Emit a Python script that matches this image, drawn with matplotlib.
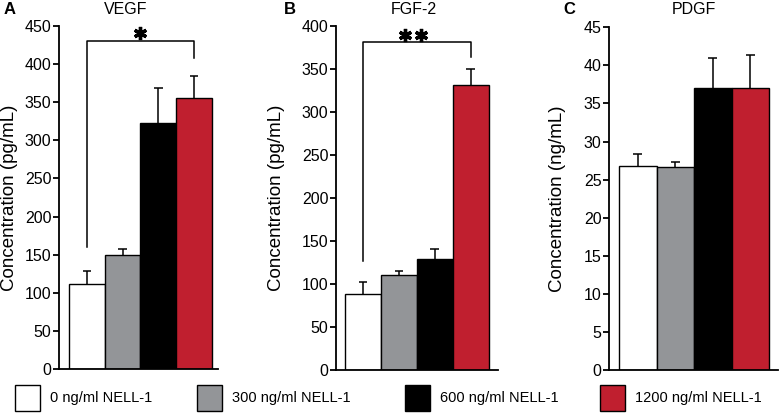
import matplotlib
matplotlib.use('Agg')
import matplotlib.pyplot as plt
from matplotlib.patches import Rectangle
import numpy as np

plt.rcParams['font.family'] = ['Liberation Sans', 'DejaVu Sans']

groups = ['0 ng/ml NELL-1', '300 ng/ml NELL-1', '600 ng/ml NELL-1', '1200 ng/ml NELL-1']
colors = ['#ffffff', '#939598', '#000000', '#c01f2f']

vegf_mean = [111, 150, 323, 355]
vegf_err = [17, 8, 46, 29]
fgf_mean = [89, 110, 129, 332]
fgf_err = [13, 5, 12, 18]
pdgf_mean = [26.8, 26.6, 37.0, 37.0]
pdgf_err = [1.5, 0.7, 4.0, 4.4]

titles = ['VEGF', 'FGF-2', 'PDGF']
letters = ['A', 'B', 'C']
ylabels = ['Concentration (pg/mL)', 'Concentration (pg/mL)', 'Concentration (ng/mL)']
ylims = [450, 400, 45]
ysteps = [50, 50, 5]

# bracket: (top, left leg bottom, right leg bottom, star x positions, star y)
brackets = [(430, 160, 408, [1.50], 441),
            (382, 127, 364, [1.16, 1.61], 390),
            None]

fig = plt.figure(figsize=(7.8, 4.13), dpi=100)
boxes = [[0.0756, 0.1065, 0.2039, 0.8305],
         [0.4308, 0.1040, 0.2077, 0.8330],
         [0.7808, 0.1040, 0.2166, 0.8300]]
xlims = [(-0.78, 3.67), (-0.75, 3.76), (-0.77, 3.74)]
label_x = [-0.258, -0.315, -0.254]
title_px = [126, 414, 694]
letter_px = [4, 284, 563]
data = [(vegf_mean, vegf_err), (fgf_mean, fgf_err), (pdgf_mean, pdgf_err)]

x = np.arange(4)
cap = 0.12
for i in range(3):
    ax = fig.add_axes(boxes[i])
    m = np.array(data[i][0])
    e = np.array(data[i][1])
    # upper error bars only
    ax.vlines(x, m, m + e, color='black', lw=1.1, zorder=1)
    ax.hlines(m + e, x - cap, x + cap, color='black', lw=1.1, zorder=1)
    ax.bar(x, m, width=1.0, color=colors, edgecolor='black', linewidth=1.0, zorder=2)
    ax.set_xlim(*xlims[i])
    ax.set_ylim(0, ylims[i])
    ax.set_yticks(np.arange(0, ylims[i] + 0.01, ysteps[i]))
    ax.set_xticks([])
    for s in ['top', 'right']:
        ax.spines[s].set_visible(False)
    for s in ['left', 'bottom']:
        ax.spines[s].set_linewidth(1.3)
    ax.tick_params(axis='y', labelsize=11.5, width=1.3, length=4.5, pad=1)
    ax.set_ylabel(ylabels[i], fontsize=13.5)
    ax.yaxis.set_label_coords(label_x[i], 0.5)
    fig.text(title_px[i] / 780, 1 - 10 / 413, titles[i], fontsize=11.5,
             ha='center', va='center')
    fig.text(letter_px[i] / 780, 1 - 10 / 413, letters[i], fontsize=12,
             fontweight='bold', ha='left', va='center')
    b = brackets[i]
    if b is not None:
        top, lb, rb, sx, sy = b
        ax.plot([0, 0, 3, 3], [lb, top, top, rb], color='black', lw=1.1, clip_on=False)
        ax.plot(sx, [sy] * len(sx), linestyle='none', marker=(6, 2, 0),
                markersize=9.5, markeredgewidth=2.4, color='black', clip_on=False)

# legend at bottom
leg_x = [15, 197, 405, 600]
for j in range(4):
    x0 = leg_x[j] / 780
    fig.add_artist(Rectangle((x0, 1 - 411 / 413), 25 / 780, 26 / 413,
                             transform=fig.transFigure, facecolor=colors[j],
                             edgecolor='black', linewidth=1.0))
    fig.text(x0 + 35 / 780, 1 - 398 / 413, groups[j], fontsize=10.5,
             ha='left', va='center')

fig.savefig('out.png', dpi=100)
